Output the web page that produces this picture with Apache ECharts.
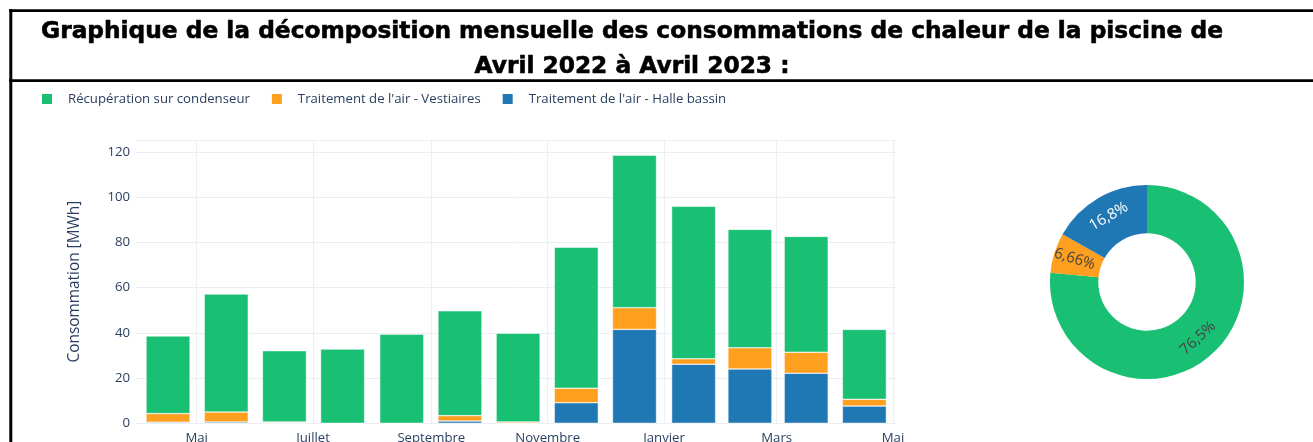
<!DOCTYPE html>
<html>
<head>
<meta charset="utf-8">
<title>Décomposition mensuelle des consommations de chaleur</title>
<script src="https://cdn.jsdelivr.net/npm/echarts@6/dist/echarts.min.js"></script>
<style>
  html, body { margin: 0; padding: 0; background: #fff; }
  #chart { width: 1313px; height: 442px; }
</style>
</head>
<body>
<div id="chart"></div>
<script>
// mois de la période (une barre par mois)
const months = ['2022-04', '2022-05', '2022-06', '2022-07', '2022-08', '2022-09', '2022-10',
  '2022-11', '2022-12', '2023-01', '2023-02', '2023-03', '2023-04'];

// consommations [MWh]
const halleBassin = [0.5, 0.6, 0.2, 0, 0, 1.0, 0, 9.1, 41.5, 26.1, 24.0, 22.1, 7.6];
const vestiaires = [3.8, 4.4, 0.4, 0, 0, 2.4, 0.6, 6.4, 9.6, 2.4, 9.4, 9.3, 3.0];
const condenseur = [34.3, 52.1, 31.5, 32.8, 39.4, 46.3, 39.2, 62.3, 67.4, 67.4, 52.3, 51.2, 30.9];

// répartition annuelle [%] : condenseur, vestiaires, halle bassin
const pieShares = [76.5, 6.66, 16.8];

// graduations de l'axe des dates
const tickMonths = ['2022-05', '2022-07', '2022-09', '2022-11', '2023-01', '2023-03', '2023-05'];
const tickLabels = ['Mai', 'Juillet', 'Septembre', 'Novembre', 'Janvier', 'Mars', 'Mai'];

const names = ['Récupération sur condenseur', "Traitement de l'air - Vestiaires", "Traitement de l'air - Halle bassin"];
const colors = ['#19bf72', '#ff9f1f', '#1f77b4'];
const textColor = '#2a3f5f';
const gridColor = '#ebeef2';

const GRID_W = 761;
const BAR_W = 44;
const DAY = 86400000;
function monthStart(ym, offset) {
  const [y, m] = ym.split('-').map(Number);
  return Date.UTC(y, m - 1 + (offset || 0), 1);
}
// barre centrée au milieu du mois
function monthMiddle(ym) {
  return (monthStart(ym) + monthStart(ym, 1)) / 2;
}
const tickTimes = tickMonths.map((m) => monthStart(m));
const xMin = monthStart('2022-04') - 1.8 * DAY;
const xMax = monthStart('2023-05') + 2.1 * DAY;
// l'axe time élargit son étendue d'une demi-barre de chaque côté : on le compense
const xPad = (xMax - xMin) * (BAR_W / 2) / GRID_W;

function barData(values) {
  return values.map((v, i) => [monthMiddle(months[i]), v]);
}

const chart = echarts.init(document.getElementById('chart'));

chart.setOption({
  animation: false,
  textStyle: { fontFamily: '"Open Sans", Verdana, Arial, sans-serif' },
  title: {
    text: 'Graphique de la décomposition mensuelle des consommations de chaleur de la piscine de\nAvril 2022 à Avril 2023 :',
    left: 627,
    top: 9,
    textAlign: 'center',
    textStyle: {
      fontFamily: '"DejaVu Sans", sans-serif',
      fontWeight: 'bold',
      fontSize: 23.3,
      lineHeight: 35,
      color: '#000',
      textBorderColor: '#000',
      textBorderWidth: 0.6,
    },
  },
  // cadre du titre
  graphic: [
    { type: 'line', shape: { x1: 9, y1: 10.7, x2: 1313, y2: 10.7 }, style: { stroke: '#000', lineWidth: 2.7 } },
    { type: 'line', shape: { x1: 10.8, y1: 9.3, x2: 10.8, y2: 442 }, style: { stroke: '#000', lineWidth: 3 } },
    { type: 'line', shape: { x1: 9, y1: 80.7, x2: 1313, y2: 80.7 }, style: { stroke: '#000', lineWidth: 2.7 } },
  ],
  legend: {
    data: names,
    left: 40,
    top: 92,
    padding: 0,
    itemWidth: 12,
    itemHeight: 12,
    itemGap: 20,
    icon: 'rect',
    textStyle: { fontSize: 13.2, color: textColor, padding: [0, 0, 0, 10] },
  },
  grid: {
    left: 136,
    top: 140,
    width: GRID_W,
    bottom: 18.7,
    outerBoundsMode: 'none',
  },
  xAxis: [
    {
      // axe des barres (dates)
      type: 'time',
      min: xMin + xPad,
      max: xMax - xPad,
      show: false,
    },
    {
      // même étendue, graduations bimestrielles
      type: 'value',
      position: 'bottom',
      min: xMin,
      max: xMax,
      axisLine: { show: false },
      axisTick: { show: false, customValues: tickTimes },
      axisLabel: {
        customValues: tickTimes,
        formatter: (val) => tickLabels[tickTimes.indexOf(val)],
        fontSize: 13.2,
        color: textColor,
        margin: 8,
        hideOverlap: false,
      },
      splitLine: { show: true, lineStyle: { color: gridColor, width: 1 } },
    },
  ],
  yAxis: {
    type: 'value',
    min: 0,
    max: 125.2,
    interval: 20,
    name: 'Consommation [MWh]',
    nameLocation: 'middle',
    nameGap: 54,
    nameTextStyle: { fontSize: 15.4, color: textColor },
    axisLine: { show: false },
    axisTick: { show: false },
    axisLabel: { fontSize: 13.2, color: textColor, margin: 6, showMaxLabel: false },
    splitLine: { lineStyle: { color: gridColor, width: 1 } },
  },
  series: [
    {
      name: names[2],
      type: 'bar',
      stack: 'total',
      barWidth: BAR_W,
      itemStyle: { color: colors[2], borderColor: '#fff', borderWidth: 0.5 },
      data: barData(halleBassin),
    },
    {
      name: names[1],
      type: 'bar',
      stack: 'total',
      barWidth: BAR_W,
      itemStyle: { color: colors[1], borderColor: '#fff', borderWidth: 0.5 },
      data: barData(vestiaires),
    },
    {
      name: names[0],
      type: 'bar',
      stack: 'total',
      barWidth: BAR_W,
      itemStyle: { color: colors[0], borderColor: '#fff', borderWidth: 0.5 },
      data: barData(condenseur),
    },
    {
      type: 'pie',
      center: [1147, 282],
      radius: [48.7, 97],
      startAngle: 90,
      clockwise: true,
      avoidLabelOverlap: false,
      label: {
        show: true,
        position: 'inside',
        fontSize: 15,
        formatter: (p) => String(p.value).replace('.', ',') + '%',
      },
      labelLine: { show: false },
      data: pieShares.map((v, i) => ({
        name: names[i],
        value: v,
        itemStyle: { color: colors[i] },
        label: {
          rotate: i === 1 ? 'radial' : 'tangential', // comme plotly : orientation auto
          color: i === 2 ? '#fff' : '#444',
        },
      })),
    },
  ],
});
</script>
</body>
</html>
